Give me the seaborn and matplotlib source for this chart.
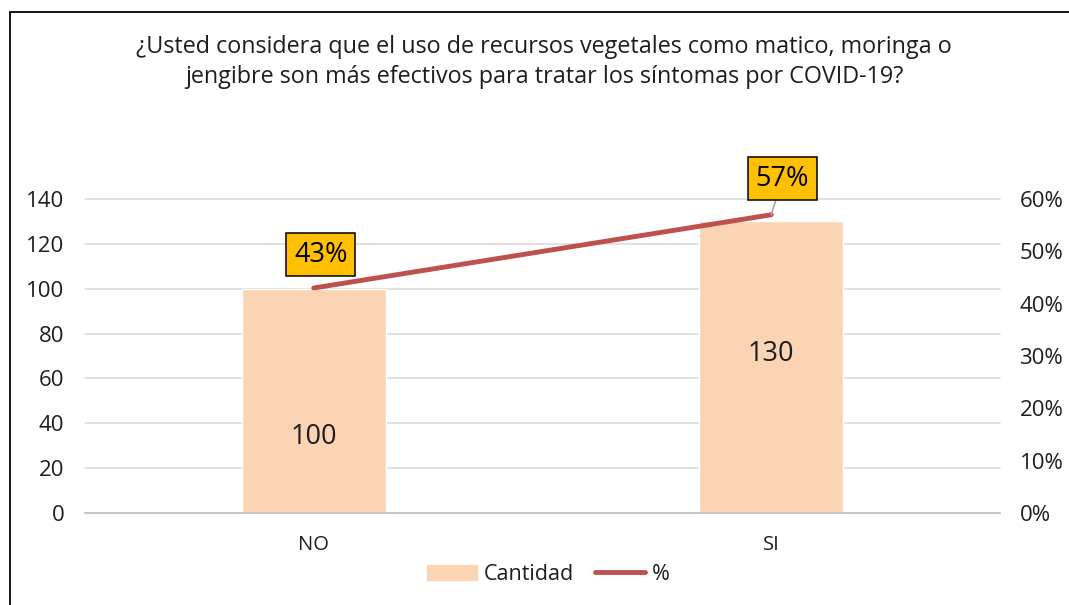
import matplotlib
matplotlib.use("Agg")
import matplotlib.pyplot as plt
import matplotlib.patches as mpatches
from matplotlib.lines import Line2D
import pandas as pd
import seaborn as sns

# data
categorias = ["NO", "SI"]
cantidad = [100, 130]
porcentaje = [0.43, 0.57]
etiquetas_pct = ["43%", "57%"]

titulo = ("¿Usted considera que el uso de recursos vegetales como matico, moringa o\n"
          "jengibre son más efectivos para tratar los síntomas por COVID-19?")

sns.set_theme(style="white")
plt.rcParams['font.family'] = ['Open Sans', 'DejaVu Sans']

color_barra = "#FBD4B4"
color_linea = "#C0504D"
color_grid = "#D9D9D9"
color_texto = "#1E1E1E"

df = pd.DataFrame({"categoria": categorias, "cantidad": cantidad, "pct": porcentaje})

fig = plt.figure(figsize=(10.69, 6.05), dpi=100)
ax = fig.add_axes([0.0795, 0.152, 0.856, 0.519])

sns.barplot(data=df, x="categoria", y="cantidad", color=color_barra,
            width=0.314, saturation=1, ax=ax, zorder=2)
ax.set_xlim(-0.5, 1.5)
ax.set_ylim(0, 140)
ax.set_yticks(range(0, 141, 20))
ax.yaxis.grid(True, color=color_grid, linewidth=1.1, zorder=0)
for gl in ax.get_ygridlines():
    gl.set_clip_on(False)
ax.set_axisbelow(True)
for s in ["top", "right", "left"]:
    ax.spines[s].set_visible(False)
ax.spines["bottom"].set_color("#BFBFBF")
ax.spines["bottom"].set_linewidth(1.1)
ax.set_xlabel("")
ax.set_ylabel("")
ax.tick_params(axis="y", length=0, pad=15, labelsize=16, colors=color_texto)
ax.tick_params(axis="x", length=0, pad=16, labelsize=14.5, colors=color_texto)

# bar value labels
pos_label = [34, 71]
for i, (v, yl) in enumerate(zip(cantidad, pos_label)):
    ax.text(i, yl, str(v), ha="center", va="center", fontsize=19.5, color=color_texto, zorder=5)

# percentage line on the secondary axis
ax2 = ax.twinx()
sns.lineplot(x=list(range(len(categorias))), y=porcentaje, color=color_linea,
             linewidth=3.5, ax=ax2, solid_capstyle="round")
ax2.set_ylim(0, 0.6)
ax2.set_yticks([0, 0.1, 0.2, 0.3, 0.4, 0.5, 0.6])
ax2.set_yticklabels([f"{int(round(t * 100))}%" for t in ax2.get_yticks()])
for s in ["top", "right", "left", "bottom"]:
    ax2.spines[s].set_visible(False)
ax2.grid(False)
ax2.tick_params(axis="y", length=0, pad=14, labelsize=16, colors=color_texto)
ax2.set_xlim(-0.5, 1.5)

box = dict(boxstyle="square,pad=0.28", facecolor="#FFC000", edgecolor="black", linewidth=1.1)
offsets = [(5, 24), (8, 26)]
for i, (p, lab, off) in enumerate(zip(porcentaje, etiquetas_pct, offsets)):
    arrow = None
    if i == 1:
        arrow = dict(arrowstyle="-", color="#A6A6A6", linewidth=1.2, shrinkA=0, shrinkB=0)
    ax2.annotate(lab, xy=(i, p), xytext=off, textcoords="offset points",
                 ha="center", va="center", fontsize=19.5, color="black",
                 bbox=box, arrowprops=arrow, zorder=6)

fig.text(0.509, 0.8975, titulo, ha="center", va="center", fontsize=16.8,
         color=color_texto, linespacing=1.28)

handles = [mpatches.Patch(color=color_barra, label="Cantidad"),
           Line2D([0], [0], color=color_linea, linewidth=3.5, solid_capstyle="round", label="%")]
fig.legend(handles=handles, loc="center", bbox_to_anchor=(0.513, 0.051), ncol=2,
           frameon=False, fontsize=15.5, handlelength=2.3, columnspacing=1.0,
           handletextpad=0.32, labelcolor=color_texto)

# chart frame (cut off at right and bottom in the reference)
frame = mpatches.Rectangle((10 / 1069, -0.1), 1.2, (605 - 12) / 605 + 0.1,
                           transform=fig.transFigure, fill=False,
                           edgecolor="black", linewidth=1.3)
fig.patches.append(frame)

fig.savefig("out.png", dpi=100)
